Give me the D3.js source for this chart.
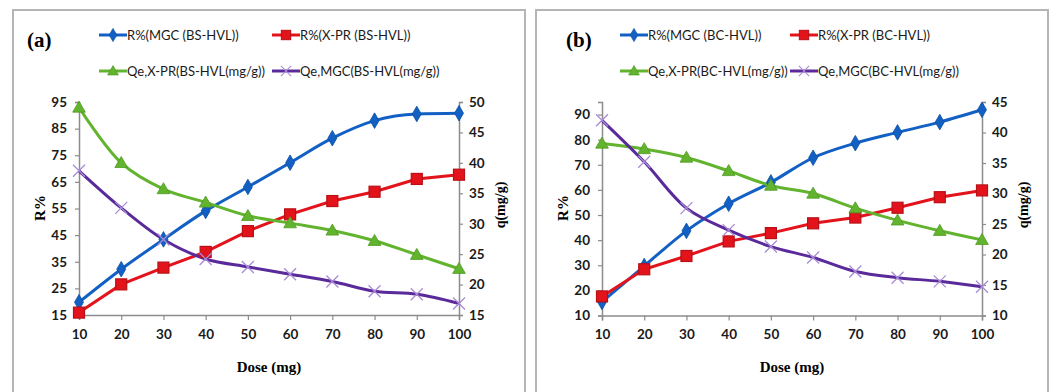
<!DOCTYPE html>
<html>
<head>
<meta charset="utf-8">
<script src="https://cdn.jsdelivr.net/npm/d3@7"></script>
<style>
  body { margin: 0; background: #fff; }
  svg { display: block; }
  .tick text { font-family: Lato, "Open Sans", sans-serif; font-weight: bold; font-size: 13.5px; fill: #1a1a1a; }
</style>
</head>
<body>
<div id="chart"></div>
<script>
// dose values on the x axis
const doses = [10, 20, 30, 40, 50, 60, 70, 80, 90, 100];

// panel (a) BS-HVL
const rMgcA = [19.8, 32.2, 43.4, 54.1, 63.1, 72.2, 81.4, 88.0, 90.5, 90.8];
const rXprA = [15.9, 26.5, 32.8, 38.7, 46.5, 52.8, 57.8, 61.3, 66.1, 67.7];
const qeXprA = [49.1, 40.0, 35.7, 33.5, 31.3, 30.1, 28.9, 27.2, 24.9, 22.6];
const qeMgcA = [38.7, 32.6, 27.4, 24.2, 22.9, 21.7, 20.5, 18.9, 18.4, 16.9];

// panel (b) BC-HVL
const rMgcB = [15.4, 29.7, 43.7, 54.5, 63.0, 72.8, 78.6, 82.9, 87.0, 91.9];
const rXprB = [17.6, 28.4, 33.7, 39.5, 42.8, 46.7, 49.0, 52.9, 57.1, 59.8];
const qeXprB = [38.2, 37.3, 35.9, 33.7, 31.3, 30.0, 27.6, 25.6, 23.9, 22.4];
const qeMgcB = [42.0, 35.2, 27.6, 24.0, 21.3, 19.5, 17.2, 16.2, 15.6, 14.7];

// tick labels
const leftTicksA = [15, 25, 35, 45, 55, 65, 75, 85, 95];
const rightTicksA = [15, 20, 25, 30, 35, 40, 45, 50];
const leftTicksB = [10, 20, 30, 40, 50, 60, 70, 80, 90];
const rightTicksB = [10, 15, 20, 25, 30, 35, 40, 45];

const width = 1052, height = 392;
const svg = d3.select("#chart").append("svg")
    .attr("width", width)
    .attr("height", height);

const colors = {
    blue: "#1260c4",
    red: "#e3131b",
    green: "#62b32e",
    purple: "#5a2a9a",
    purpleMarker: "#a98bd6"
};

// draw one marker of the given kind at (0,0) inside g
function drawMarker(g, kind) {
    if (kind === "diamond") {
        g.append("path").attr("d", d3.symbol(d3.symbolDiamond, 70)())
            .attr("fill", colors.blue).attr("stroke", "#0c4f9e").attr("stroke-width", 0.8);
    } else if (kind === "square") {
        g.append("rect").attr("x", -5.5).attr("y", -5.5).attr("width", 11).attr("height", 11)
            .attr("fill", colors.red).attr("stroke", "#b81015").attr("stroke-width", 1.2);
    } else if (kind === "triangle") {
        g.append("path").attr("d", d3.symbol(d3.symbolTriangle, 70)())
            .attr("transform", "translate(0,1)")
            .attr("fill", colors.green).attr("stroke", "#4f9a22").attr("stroke-width", 0.8);
    } else {
        g.append("path").attr("d", "M-6,-6L6,6M-6,6L6,-6")
            .attr("stroke", colors.purpleMarker).attr("stroke-width", 1.3).attr("fill", "none");
    }
}

function drawPanel(p) {
    const g = svg.append("g");

    // frame
    g.append("path")
        .attr("d", `M${p.frame[0]},${height}V${p.frame[1]}H${p.frame[2]}V${height}`)
        .attr("fill", "none").attr("stroke", "#b5b5b5").attr("stroke-width", 2);

    const x = d3.scaleLinear().domain([10, 100]).range(p.xRange);
    const yL = d3.scaleLinear().domain(p.leftDomain).range(p.yRange);
    const yR = d3.scaleLinear().domain(p.rightDomain).range(p.yRange);

    // axes
    const axisX = g.append("g")
        .attr("transform", `translate(0,${p.yRange[0]})`)
        .call(d3.axisBottom(x).tickValues(doses).tickSize(5).tickPadding(9));
    const axisL = g.append("g")
        .attr("transform", `translate(${p.xRange[0]},0)`)
        .call(d3.axisLeft(yL).tickValues(p.leftTicks).tickSize(4).tickPadding(8));
    const axisR = g.append("g")
        .attr("transform", `translate(${p.xRange[1]},0)`)
        .call(d3.axisRight(yR).tickValues(p.rightTicks).tickSize(4).tickPadding(6));
    [axisX, axisL, axisR].forEach(a => {
        a.select(".domain").attr("stroke", "#8c8c8c").attr("stroke-width", 1.5);
        a.selectAll(".tick line").attr("stroke", "#8c8c8c").attr("stroke-width", 1.2);
    });

    // axis titles
    g.append("text")
        .attr("x", (p.xRange[0] + p.xRange[1]) / 2).attr("y", 372)
        .attr("text-anchor", "middle")
        .style("font-family", "'Liberation Serif', serif").style("font-weight", "bold").style("font-size", "15px")
        .text("Dose (mg)");
    g.append("text")
        .attr("transform", `translate(${p.leftTitleX},208) rotate(-90)`)
        .attr("text-anchor", "middle")
        .style("font-family", "'Liberation Serif', serif").style("font-weight", "bold").style("font-size", "15px")
        .text("R%");
    g.append("text")
        .attr("transform", `translate(${p.rightTitleX},205) rotate(-90)`)
        .attr("text-anchor", "middle")
        .style("font-family", "'Liberation Serif', serif").style("font-weight", "bold").style("font-size", "14px")
        .text("q(mg/g)");

    // series
    const series = [
        {values: p.rMgc, scale: yL, color: colors.blue, marker: "diamond", curve: d3.curveMonotoneX},
        {values: p.rXpr, scale: yL, color: colors.red, marker: "square", curve: d3.curveLinear},
        {values: p.qeXpr, scale: yR, color: colors.green, marker: "triangle", curve: d3.curveCatmullRom},
        {values: p.qeMgc, scale: yR, color: colors.purple, marker: "cross", curve: d3.curveCatmullRom}
    ];

    series.forEach(s => {
        const line = d3.line()
            .x((d, i) => x(doses[i]))
            .y(d => s.scale(d))
            .curve(s.curve);
        g.append("path")
            .datum(s.values)
            .attr("fill", "none")
            .attr("stroke", s.color)
            .attr("stroke-width", 3)
            .attr("d", line);
    });
    series.forEach(s => {
        s.values.forEach((v, i) => {
            const m = g.append("g").attr("transform", `translate(${x(doses[i])},${s.scale(v)})`);
            drawMarker(m, s.marker);
        });
    });

    // panel label
    g.append("text")
        .attr("x", p.labelX).attr("y", 47)
        .style("font-family", "'Liberation Serif', serif").style("font-weight", "bold").style("font-size", "21px")
        .text(p.label);

    // legend
    p.legend.forEach((item, i) => {
        const s = series[i];
        const lg = g.append("g").attr("transform", `translate(${item.x},${item.y})`);
        lg.append("line").attr("x1", 0).attr("x2", 28).attr("y1", 0).attr("y2", 0)
            .attr("stroke", s.color).attr("stroke-width", 3);
        drawMarker(lg.append("g").attr("transform", "translate(14,0) scale(0.85)"), s.marker);
        lg.append("text")
            .attr("x", 28).attr("y", 4.5)
            .style("font-family", "Lato, sans-serif").style("font-size", "13px").style("fill", "#1a1a1a")
            .text(item.text);
    });
}

drawPanel({
    frame: [13, 10, 525],
    xRange: [79, 459],
    yRange: [315, 102],
    leftDomain: [15, 95],
    rightDomain: [15, 50],
    leftTicks: leftTicksA,
    rightTicks: rightTicksA,
    rMgc: rMgcA, rXpr: rXprA, qeXpr: qeXprA, qeMgc: qeMgcA,
    leftTitleX: 45,
    rightTitleX: 505,
    label: "(a)",
    labelX: 27,
    legend: [
        {x: 99, y: 35, text: "R%(MGC (BS-HVL))"},
        {x: 272, y: 35, text: "R%(X-PR (BS-HVL))"},
        {x: 99, y: 71, text: "Qe,X-PR(BS-HVL(mg/g))"},
        {x: 272, y: 71, text: "Qe,MGC(BS-HVL(mg/g))"}
    ]
});

drawPanel({
    frame: [536, 10, 1048],
    xRange: [602, 982],
    yRange: [315.5, 102],
    leftDomain: [10, 95],
    rightDomain: [10, 45],
    leftTicks: leftTicksB,
    rightTicks: rightTicksB,
    rMgc: rMgcB, rXpr: rXprB, qeXpr: qeXprB, qeMgc: qeMgcB,
    leftTitleX: 568,
    rightTitleX: 1028,
    label: "(b)",
    labelX: 566,
    legend: [
        {x: 620, y: 35, text: "R%(MGC (BC-HVL))"},
        {x: 790, y: 35, text: "R%(X-PR (BC-HVL))"},
        {x: 620, y: 71, text: "Qe,X-PR(BC-HVL(mg/g))"},
        {x: 790, y: 71, text: "Qe,MGC(BC-HVL(mg/g))"}
    ]
});
</script>
</body>
</html>
